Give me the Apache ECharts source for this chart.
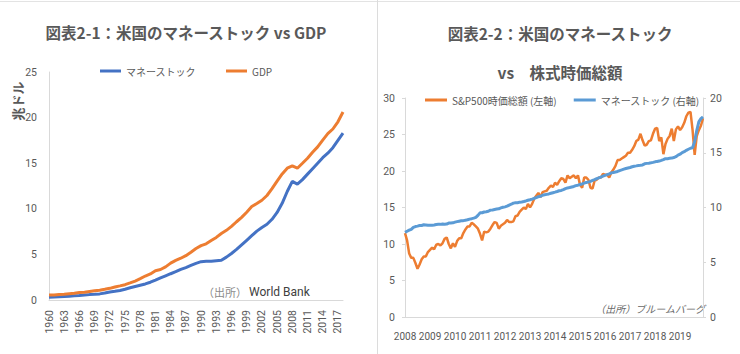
<!DOCTYPE html>
<html>
<head>
<meta charset="utf-8">
<script src="https://cdn.jsdelivr.net/npm/echarts@6/dist/echarts.min.js"></script>
<style>
  html, body { margin: 0; padding: 0; background: #fff; }
  #chart { width: 740px; height: 354px; }
</style>
</head>
<body>
<div id="chart"></div>
<script>
// left panel: yearly, trillion USD (World Bank)
var years = ['1960','1961','1962','1963','1964','1965','1966','1967','1968','1969',
  '1970','1971','1972','1973','1974','1975','1976','1977','1978','1979',
  '1980','1981','1982','1983','1984','1985','1986','1987','1988','1989',
  '1990','1991','1992','1993','1994','1995','1996','1997','1998','1999',
  '2000','2001','2002','2003','2004','2005','2006','2007','2008','2009',
  '2010','2011','2012','2013','2014','2015','2016','2017','2018'];
var moneyStock = [0.30,0.33,0.36,0.39,0.42,0.46,0.49,0.54,0.59,0.62,
  0.67,0.76,0.88,0.96,1.05,1.18,1.34,1.48,1.62,1.76,
  1.95,2.18,2.42,2.65,2.88,3.10,3.35,3.56,3.80,4.02,
  4.20,4.24,4.24,4.30,4.36,4.70,5.10,5.55,6.05,6.55,
  7.05,7.55,7.95,8.30,8.85,9.60,10.6,11.9,13.0,12.7,
  13.2,13.8,14.4,15.0,15.6,16.1,16.7,17.5,18.3];
var gdp = [0.54,0.56,0.61,0.64,0.69,0.74,0.82,0.86,0.94,1.02,
  1.07,1.17,1.28,1.43,1.55,1.68,1.87,2.08,2.35,2.63,
  2.86,3.21,3.34,3.63,4.04,4.34,4.58,4.86,5.24,5.64,
  5.96,6.16,6.52,6.86,7.29,7.64,8.07,8.58,9.06,9.63,
  10.25,10.58,10.94,11.46,12.21,13.04,13.82,14.45,14.71,14.45,
  14.99,15.54,16.20,16.79,17.53,18.24,18.75,19.54,20.61];

// right panel: monthly, Aug 2008 - Jul 2020, trillion USD
var panelYears = ['2008','2009','2010','2011','2012','2013','2014','2015','2016','2017','2018','2019','2020'];
var sp500Cap = [
  11.5,10.5,8.7,8.1,8.1,
  7.4,6.6,7.2,7.9,8.3,8.3,8.9,9.2,9.5,9.3,9.9,10.0,
  9.8,10.1,10.7,10.9,10.0,9.4,10.1,9.6,10.4,10.8,10.8,11.5,
  12.0,12.4,12.4,12.9,12.7,12.4,12.1,11.4,10.5,11.7,11.6,11.7,
  12.1,12.6,13.0,12.9,12.1,12.5,12.7,12.9,13.3,13.0,13.0,13.1,
  13.8,13.9,14.4,14.7,15.0,14.8,15.5,15.0,15.5,16.2,16.6,17.0,
  16.4,17.1,17.2,17.3,17.7,18.0,17.8,18.4,18.1,18.6,19.0,18.9,
  18.4,19.4,19.0,19.2,19.4,19.0,19.4,18.1,17.7,19.1,19.1,18.8,
  17.7,17.6,18.7,18.8,19.1,19.1,19.6,19.5,19.5,19.1,19.8,20.2,
  20.7,21.5,21.5,21.7,21.9,22.1,22.5,22.5,22.9,23.4,24.1,24.3,
  25.1,24.2,23.5,23.6,24.1,24.2,25.1,25.8,25.9,24.1,24.6,22.3,
  23.7,24.4,24.8,25.8,24.1,25.7,26.1,25.6,26.0,26.6,27.5,28.0,
  28.1,25.6,22.2,24.8,25.6,26.2,27.2];
var m2 = [
  7.73,7.83,7.93,8.01,8.19,
  8.26,8.30,8.35,8.36,8.42,8.41,8.38,8.37,8.38,8.40,8.44,8.46,
  8.46,8.49,8.47,8.49,8.58,8.59,8.60,8.66,8.71,8.75,8.79,8.80,
  8.84,8.88,8.94,8.98,9.03,9.10,9.28,9.51,9.52,9.59,9.62,9.66,
  9.76,9.78,9.82,9.86,9.88,9.96,10.02,10.06,10.12,10.22,10.30,10.40,
  10.43,10.44,10.49,10.51,10.55,10.60,10.66,10.71,10.77,10.84,10.90,10.99,
  11.02,11.12,11.16,11.20,11.24,11.30,11.35,11.40,11.46,11.53,11.56,11.63,
  11.72,11.79,11.82,11.87,11.92,12.00,12.04,12.10,12.15,12.22,12.29,12.32,
  12.39,12.47,12.54,12.63,12.70,12.78,12.86,12.93,13.00,13.07,13.16,13.20,
  13.24,13.29,13.37,13.43,13.50,13.56,13.61,13.65,13.72,13.77,13.80,13.84,
  13.86,13.89,13.99,14.03,14.05,14.08,14.12,14.17,14.21,14.24,14.30,14.37,
  14.46,14.46,14.49,14.51,14.56,14.64,14.78,14.87,15.01,15.10,15.22,15.32,
  15.41,15.45,16.02,17.03,17.82,18.12,18.28];

// month categories 2008/08 .. 2020/07
var months = [];
panelYears.forEach(function (y, i) {
  for (var mo = 1; mo <= 12; mo++) {
    if (i === 0 && mo < 8) continue;
    if (y === '2020' && mo > 7) break;
    months.push(y + '/' + (mo < 10 ? '0' + mo : mo));
  }
});

var gray = '#595959';
var axisGray = '#d9d9d9';
var cjk = '"Noto Sans CJK JP", "Noto Sans", sans-serif';
var num = 'Roboto, Lato, "Noto Sans", sans-serif';

function txt(x, y, text, font, extra) {
  var s = { text: text, x: 0, y: 0, font: font, fill: gray, textAlign: 'center', textVerticalAlign: 'middle' };
  for (var k in extra) s[k] = extra[k];
  return { type: 'text', x: x, y: y, style: s, silent: true };
}

var option = {
  animation: false,
  graphic: [
    { type: 'line', shape: { x1: 0, y1: 1.5, x2: 740, y2: 1.5 }, style: { stroke: '#e3e3e3', lineWidth: 1 } },
    { type: 'line', shape: { x1: 377.5, y1: 0, x2: 377.5, y2: 354 }, style: { stroke: '#dcdcdc', lineWidth: 1 } },
    txt(186, 32, '図表2-1：米国のマネーストック vs GDP', 'bold 15.5px ' + cjk),
    txt(560, 33, '図表2-2：米国のマネーストック', 'bold 15.5px ' + cjk),
    txt(560, 72, 'vs　株式時価総額', 'bold 15.5px ' + cjk),
    { type: 'text', x: 17, y: 101, rotation: Math.PI / 2, silent: true,
      style: { text: '兆ドル', font: 'bold 13px ' + cjk, fill: gray, textAlign: 'center', textVerticalAlign: 'middle' } },
    txt(247, 292, '（出所）', '11px ' + cjk, { textAlign: 'right', fill: '#8a8a8a' }),
    txt(249, 292, 'World Bank', '12px ' + num, { textAlign: 'left', fill: '#404040' }),
    txt(705, 308, '（出所）ブルームバーグ', 'italic 10px ' + cjk, { textAlign: 'right', fill: '#6a6a6a' })
  ],
  legend: [
    {
      data: ['マネーストック', 'GDP'],
      left: 100, top: 66, padding: 0, itemGap: 30,
      icon: 'rect', itemWidth: 21, itemHeight: 3,
      textStyle: { color: gray, fontSize: 10, fontFamily: cjk }
    },
    {
      data: ['S&P500時価総額 (左軸)', 'マネーストック (右軸)'],
      left: 425, top: 95, padding: 0, itemGap: 17,
      icon: 'rect', itemWidth: 22, itemHeight: 3,
      textStyle: { color: gray, fontSize: 10, fontFamily: cjk }
    }
  ],
  grid: [
    { left: 49, top: 72, width: 294, height: 228 },
    { left: 405, top: 98, width: 298, height: 219 }
  ],
  xAxis: [
    {
      type: 'category', gridIndex: 0, data: years, boundaryGap: false,
      axisLine: { lineStyle: { color: axisGray } },
      axisTick: { show: false },
      axisLabel: { interval: 2, rotate: 90, margin: 10, color: gray, fontSize: 10.5, fontFamily: num }
    },
    {
      type: 'category', gridIndex: 1, data: months, boundaryGap: false,
      axisLine: { lineStyle: { color: axisGray } },
      axisTick: { show: false },
      axisLabel: {
        interval: 11, margin: 14, color: gray, fontSize: 10, fontFamily: num,
        showMinLabel: true,
        formatter: function (v) { return v.slice(0, 4); }
      }
    }
  ],
  yAxis: [
    {
      type: 'value', gridIndex: 0, min: 0, max: 25, interval: 5,
      axisLine: { show: true, lineStyle: { color: axisGray } },
      axisTick: { show: false }, splitLine: { show: false },
      axisLabel: { margin: 12, color: gray, fontSize: 10.5, fontFamily: num }
    },
    {
      type: 'value', gridIndex: 1, min: 0, max: 30, interval: 5,
      axisLine: { show: true, lineStyle: { color: axisGray } },
      axisTick: { show: true, length: 3, lineStyle: { color: axisGray } },
      splitLine: { show: false },
      axisLabel: { margin: 10, color: gray, fontSize: 10.5, fontFamily: num }
    },
    {
      type: 'value', gridIndex: 1, position: 'right', min: 0, max: 20, interval: 5,
      axisLine: { show: true, lineStyle: { color: axisGray } },
      axisTick: { show: true, length: 3, lineStyle: { color: axisGray } },
      splitLine: { show: false },
      axisLabel: { margin: 7, color: gray, fontSize: 10.5, fontFamily: num }
    }
  ],
  series: [
    {
      name: 'マネーストック', type: 'line', xAxisIndex: 0, yAxisIndex: 0,
      data: moneyStock, symbol: 'none', color: '#4472C4',
      lineStyle: { width: 3, color: '#4472C4' }
    },
    {
      name: 'GDP', type: 'line', xAxisIndex: 0, yAxisIndex: 0,
      data: gdp, symbol: 'none', color: '#ED7D31',
      lineStyle: { width: 3, color: '#ED7D31' }
    },
    {
      name: 'S&P500時価総額 (左軸)', type: 'line', xAxisIndex: 1, yAxisIndex: 1,
      data: sp500Cap, symbol: 'none', color: '#ED7D31',
      lineStyle: { width: 2.5, color: '#ED7D31' }
    },
    {
      name: 'マネーストック (右軸)', type: 'line', xAxisIndex: 1, yAxisIndex: 2,
      data: m2, symbol: 'none', color: '#5B9BD5',
      lineStyle: { width: 3, color: '#5B9BD5' }
    }
  ]
};

var chart = echarts.init(document.getElementById('chart'), null, { renderer: 'svg' });
chart.setOption(option);
</script>
</body>
</html>
